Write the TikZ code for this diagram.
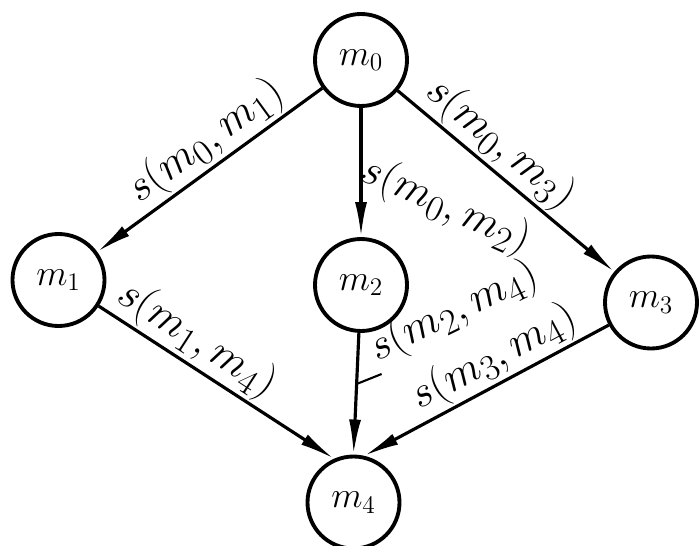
\documentclass[tikz,border=0pt]{standalone}
\usetikzlibrary{positioning, arrows.meta}

\begin{document}
\begin{tikzpicture}[
  on grid,
  machine/.style={circle, draw, line width=2.2pt, minimum size=1.84cm,
                  inner sep=0pt, font=\huge},
  arr/.style={-{Latex[length=7mm, width=2.4mm]}, line width=1.8pt},
  lbl/.style={font=\Huge, inner sep=1pt},
  lead/.style={line width=1.2pt}
]
  \useasboundingbox (0,0) rectangle (13.98,-10.92);

  % Machines
  \node[machine] (m0) at (7.22,-1.20) {$m_0$};
  \node[machine, below=4.5cm of m0]                  (m2) {$m_2$};
  \node[machine, above left=0.1cm and 6.05cm of m2]  (m1) {$m_1$};
  \node[machine, below right=0.35cm and 5.8cm of m2] (m3) {$m_3$};
  \node[machine, below=4.35cm of m2, xshift=-0.15cm] (m4) {$m_4$};

  % Arrows from m0
  \draw[arr] (m0) -- node[lbl, sloped, above, pos=0.45] (l01) {$s(m_0, m_1)$} (m1);
  \draw[arr] (m0) -- coordinate[pos=0.3] (t02) (m2);
  \node[lbl, rotate=-24, anchor=north west] (l02) at ([xshift=0.2cm]t02) {$s(m_0, m_2)$};
  \draw[arr] (m0) -- node[lbl, sloped, above, pos=0.4] (l03) {$s(m_0, m_3)$} (m3);

  % Arrows into m4
  \draw[arr] (m1) -- node[lbl, sloped, above, pos=0.36] (l14) {$s(m_1, m_4)$} (m4.114);
  \draw[arr] (m2) -- coordinate[pos=0.42] (t24) (m4.north);
  \node[lbl, rotate=26, anchor=south west] (l24) at ([shift={(0.5,0.2)}]t24) {$s(m_2, m_4)$};
  \draw[lead] (t24) -- (l24.south west);
  \draw[arr] (m3) -- node[lbl, sloped, above, pos=0.42] (l34) {$s(m_3, m_4)$} (m4.77);
\end{tikzpicture}
\end{document}
